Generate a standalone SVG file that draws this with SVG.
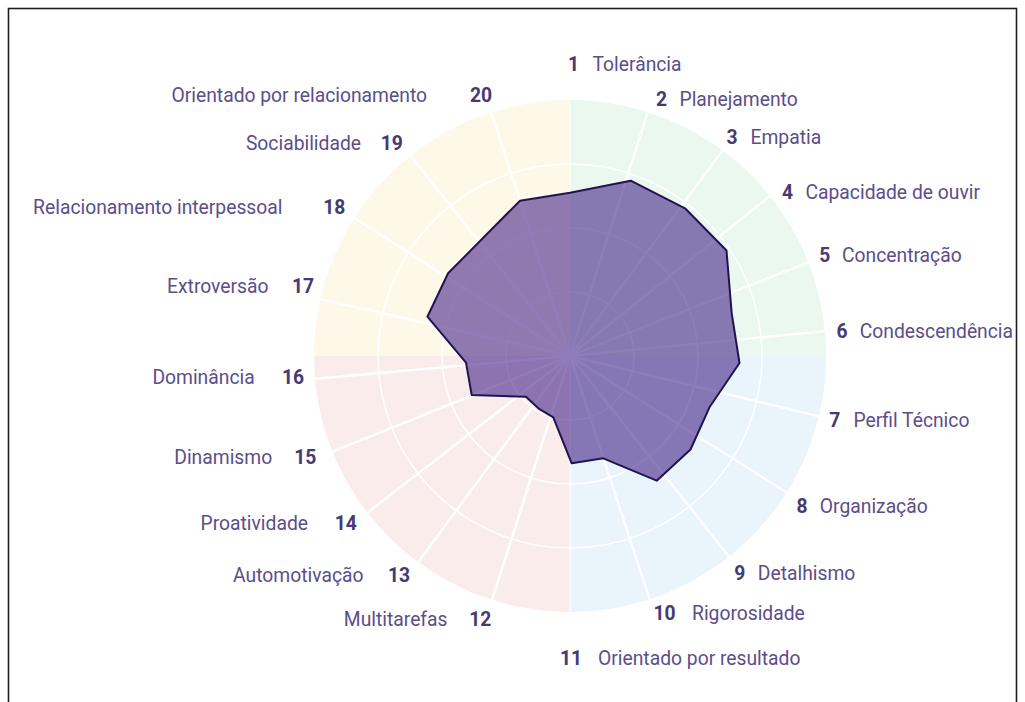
<svg xmlns="http://www.w3.org/2000/svg" width="1025" height="702" viewBox="0 0 1025 702">
<style>
.lbl{font-family:Roboto,"Liberation Sans",sans-serif;font-size:19.3px;fill:#5b4e8a}
.num{font-family:Roboto,"Liberation Sans",sans-serif;font-size:19.3px;font-weight:bold;fill:#463a72}
.end{text-anchor:end}
.spoke{stroke:#ffffff;stroke-width:2.4;fill:none}
.ring{stroke:#ffffff;stroke-width:1.5;fill:none}
</style>
<rect x="0" y="0" width="1025" height="702" fill="#ffffff"/>
<rect id="frame" x="8.5" y="8.5" width="1008" height="720" fill="none" stroke="#1e1e1e" stroke-width="1.6"/>
<g id="background">
<path d="M570,356 L570,100 A256,256 0 0 1 826,356 Z" fill="#ebf8ef"/>
<path d="M570,356 L826,356 A256,256 0 0 1 570,612 Z" fill="#e9f4fb"/>
<path d="M570,356 L570,612 A256,256 0 0 1 314,356 Z" fill="#fbecec"/>
<path d="M570,356 L314,356 A256,256 0 0 1 570,100 Z" fill="#fef8e8"/>
</g>
<g id="grid">
<circle class="ring" cx="570" cy="356" r="64"/>
<circle class="ring" cx="570" cy="356" r="128"/>
<circle class="ring" cx="570" cy="356" r="192"/>
<line x1="570" y1="100" x2="570" y2="612" stroke="#ffffff" stroke-width="1"/>
<g class="spoke">
<line x1="570" y1="356" x2="648.0" y2="111.1"/>
<line x1="570" y1="356" x2="723.2" y2="149.7"/>
<line x1="570" y1="356" x2="770.7" y2="195.4"/>
<line x1="570" y1="356" x2="809.2" y2="262"/>
<line x1="570" y1="356" x2="825.8" y2="331.1"/>
<line x1="570" y1="356" x2="819.7" y2="416.6"/>
<line x1="570" y1="356" x2="787.5" y2="493"/>
<line x1="570" y1="356" x2="729.6" y2="557.4"/>
<line x1="570" y1="356" x2="649.8" y2="599.6"/>
<line x1="570" y1="356" x2="492" y2="600"/>
<line x1="570" y1="356" x2="418.3" y2="562.1"/>
<line x1="570" y1="356" x2="367.5" y2="512.6"/>
<line x1="570" y1="356" x2="332.5" y2="451.7"/>
<line x1="570" y1="356" x2="315.2" y2="378.8"/>
<line x1="570" y1="356" x2="319.4" y2="298.8"/>
<line x1="570" y1="356" x2="354.3" y2="217.8"/>
<line x1="570" y1="356" x2="410.6" y2="155.5"/>
<line x1="570" y1="356" x2="491.1" y2="111.7"/>
</g>
</g>
<g id="data">
<polygon points="570,192.7 630.7,180.7 685,208.3 726.5,250.5 731.7,313.3 739.5,363 709.8,406.7 690.5,449.5 656.7,480.7 603.3,458.3 571.7,463.3 553.3,417.3 538.3,408.3 526,396.7 471.7,395 466,362.7 427.4,316.7 448.1,273.3 484,237 520,200.7" fill="#371680" fill-opacity="0.56" stroke="#221350" stroke-width="2" stroke-linejoin="round"/>
</g>
<g id="labels-right">
<g id="axis-1"><text class="num" x="568" y="71">1</text><text class="lbl" x="592.5" y="71">Tolerância</text></g>
<g id="axis-2"><text class="num" x="656" y="106">2</text><text class="lbl" x="679.5" y="106">Planejamento</text></g>
<g id="axis-3"><text class="num" x="726.5" y="144">3</text><text class="lbl" x="750.5" y="144">Empatia</text></g>
<g id="axis-4"><text class="num" x="782" y="199">4</text><text class="lbl" x="805.5" y="199">Capacidade de ouvir</text></g>
<g id="axis-5"><text class="num" x="819.3" y="262">5</text><text class="lbl" x="842" y="262">Concentração</text></g>
<g id="axis-6"><text class="num" x="836.5" y="337.5">6</text><text class="lbl" x="859.8" y="337.5">Condescendência</text></g>
<g id="axis-7"><text class="num" x="829.3" y="427">7</text><text class="lbl" x="853.5" y="427">Perfil Técnico</text></g>
<g id="axis-8"><text class="num" x="796.5" y="513">8</text><text class="lbl" x="819.8" y="513">Organização</text></g>
<g id="axis-9"><text class="num" x="734.3" y="580">9</text><text class="lbl" x="757.8" y="580">Detalhismo</text></g>
<g id="axis-10"><text class="num" x="653.5" y="620">10</text><text class="lbl" x="692" y="620">Rigorosidade</text></g>
<g id="axis-11"><text class="num" x="560" y="665">11</text><text class="lbl" x="598" y="665">Orientado por resultado</text></g>
</g>
<g id="labels-left">
<g id="axis-12"><text class="lbl end" x="447.5" y="626">Multitarefas</text><text class="num" x="469.3" y="626">12</text></g>
<g id="axis-13"><text class="lbl end" x="363.5" y="582">Automotivação</text><text class="num" x="388" y="582">13</text></g>
<g id="axis-14"><text class="lbl end" x="308" y="530">Proatividade</text><text class="num" x="334.7" y="530">14</text></g>
<g id="axis-15"><text class="lbl end" x="272.2" y="464">Dinamismo</text><text class="num" x="294.3" y="464">15</text></g>
<g id="axis-16"><text class="lbl end" x="254.7" y="383.5">Dominância</text><text class="num" x="282" y="383.5">16</text></g>
<g id="axis-17"><text class="lbl end" x="268.5" y="293">Extroversão</text><text class="num" x="292" y="293">17</text></g>
<g id="axis-18"><text class="lbl end" x="282.5" y="213.5">Relacionamento interpessoal</text><text class="num" x="323.3" y="213.5">18</text></g>
<g id="axis-19"><text class="lbl end" x="361" y="150">Sociabilidade</text><text class="num" x="380.7" y="150">19</text></g>
<g id="axis-20"><text class="lbl end" x="427" y="102">Orientado por relacionamento</text><text class="num" x="470" y="102">20</text></g>
</g>
</svg>
